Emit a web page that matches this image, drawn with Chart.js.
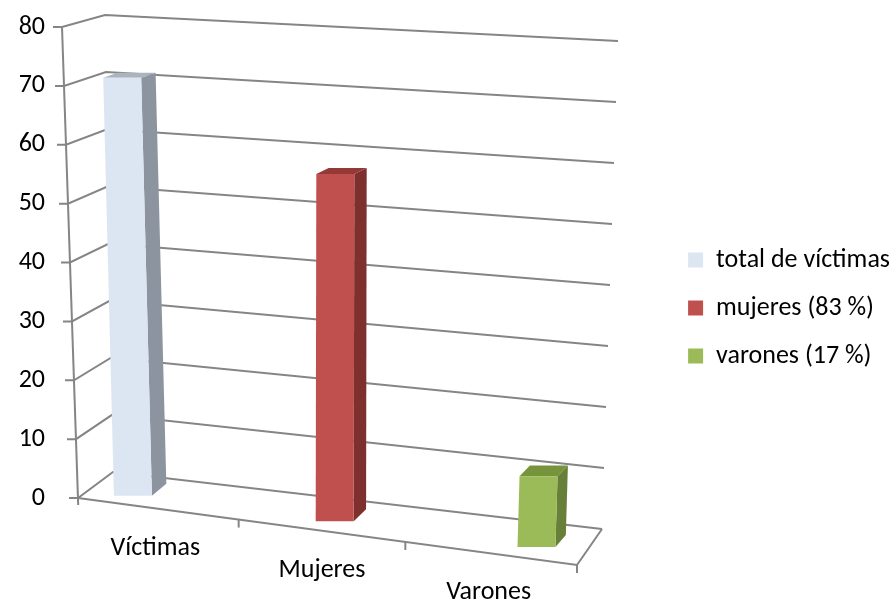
<!DOCTYPE html>
<html>
<head>
<meta charset="utf-8">
<script src="https://cdn.jsdelivr.net/npm/chart.js@4/dist/chart.umd.min.js"></script>
<style>
  html, body { margin: 0; padding: 0; background: #fff; overflow: hidden; }
  #wrap { width: 890px; height: 601px; }
  canvas { display: block; }
</style>
</head>
<body>
<div id="wrap"><canvas id="c" width="890" height="601"></canvas></div>
<script>
// ---- data ----
const categories   = ['Víctimas', 'Mujeres', 'Varones'];
const seriesLabels = ['total de víctimas', 'mujeres (83 %)', 'varones (17 %)'];
const seriesValues = [71, 59, 12];
const yTicks       = [0, 10, 20, 30, 40, 50, 60, 70, 80];

// ---- style ----
const frontColors = ['#dce6f2', '#c0504d', '#9bbb59'];
const sideColors  = ['#8c959f', '#7e302e', '#687f39'];
const topColors   = ['#aab4bf', '#943936', '#77933c'];
const GRID = '#858585';
const FS = 26;
const PAD_RIGHT = -10;

Chart.defaults.font.family = "Carlito, Calibri, Lato, 'Noto Sans', sans-serif";
Chart.defaults.font.size = FS;
Chart.defaults.color = '#000';

// perspective helpers (derived from chart area + y scale)
function geometry(chart) {
  const a = chart.chartArea, ys = chart.scales.y;
  const L = a.left, R = a.right, B = a.bottom;
  const tOf = v => (v - ys.min) / (ys.max - ys.min);
  const py = v => ys.getPixelForValue(v);
  return {
    FL: v => ({ x: L + 6 - 16 * tOf(v), y: py(v) }),
    BL: v => { const t = tOf(v); return { x: L + 41 - 8 * t, y: py(v) - 26 + 14 * t }; },
    BR: v => { const t = tOf(v); return { x: R + 30 + 16 * t, y: py(v) + 31 - 17 * t }; },
    FR0: { x: R + 5, y: B + 67 },
    frontY: x => B + (x - (L + 6)) * 67 / (R - L - 1)
  };
}

const perspective3d = {
  id: 'perspective3d',
  beforeDraw(chart) {
    // let the staggered category labels use the full canvas height (no clipping)
    chart.scales.x.bottom = chart.height;
  },
  beforeDatasetsDraw(chart) {
    const g = geometry(chart);
    const ys = chart.scales.y, xs = chart.scales.x;
    const ctx = chart.ctx;
    ctx.save();
    ctx.strokeStyle = GRID;
    ctx.lineWidth = 2;
    ctx.lineJoin = 'miter';
    yTicks.forEach(v => {
      const f = g.FL(v), b = g.BL(v), r = g.BR(v);
      ctx.beginPath();
      ctx.moveTo(f.x - 9, f.y);
      ctx.lineTo(f.x, f.y);
      ctx.lineTo(b.x, b.y);
      ctx.lineTo(r.x, r.y);
      ctx.stroke();
    });
    const f0 = g.FL(ys.min), f1 = g.FL(ys.max);
    ctx.beginPath();
    ctx.moveTo(f1.x, f1.y);
    ctx.lineTo(f0.x + 0.2, f0.y + 7);
    ctx.stroke();
    const br0 = g.BR(ys.min);
    ctx.beginPath();
    ctx.moveTo(f0.x, f0.y);
    ctx.lineTo(g.FR0.x, g.FR0.y);
    ctx.lineTo(br0.x, br0.y);
    ctx.stroke();
    ctx.beginPath();
    ctx.moveTo(g.FR0.x, g.FR0.y);
    ctx.lineTo(g.FR0.x, g.FR0.y + 8);
    ctx.stroke();
    for (let i = 0; i < categories.length - 1; i++) {
      const x = xs.getPixelForValue(i + 0.5);
      const y = g.frontY(x);
      ctx.beginPath();
      ctx.moveTo(x, y);
      ctx.lineTo(x, y + 8);
      ctx.stroke();
    }
    ctx.restore();
  },
  beforeDatasetDraw(chart, args) {
    const meta = args.meta, di = args.index;
    const a = chart.chartArea;
    const ctx = chart.ctx;
    meta.data.forEach(el => {
      const { x, y, base, width } = el.getProps(['x', 'y', 'base', 'width'], true);
      const xf = (x - a.left) / (a.right - a.left);
      const sy = 0.127 * (x - a.left) - 10;
      const tTop = (a.bottom - y) / (a.bottom - a.top);
      const lean = t => -16 * t * (1 - 2 * xf);
      const hw = width / 2;
      const bl = { x: x - hw, y: base + sy };
      const br = { x: x + hw, y: base + sy };
      const tl = { x: x - hw + lean(tTop), y: y + sy };
      const tr = { x: x + hw + lean(tTop), y: y + sy };
      const dx = 15 - 5 * xf;
      const dyT = -(4 + 8 * (1 - tTop));
      const dyB = -12;
      const poly = (pts, col) => {
        ctx.beginPath();
        ctx.moveTo(pts[0].x, pts[0].y);
        for (let k = 1; k < pts.length; k++) ctx.lineTo(pts[k].x, pts[k].y);
        ctx.closePath();
        ctx.fillStyle = col;
        ctx.fill();
      };
      ctx.save();
      poly([br, tr, { x: tr.x + dx, y: tr.y + dyT }, { x: br.x + dx, y: br.y + dyB }], sideColors[di]);
      poly([tl, tr, { x: tr.x + dx, y: tr.y + dyT }, { x: tl.x + dx, y: tl.y + dyT }], topColors[di]);
      poly([bl, br, tr, tl], frontColors[di]);
      ctx.restore();
    });
    return false;
  }
};

const datasets = seriesValues.map((v, i) => ({
  label: seriesLabels[i],
  data: [{ x: i, y: v }],
  xAxisID: 'xb',
  yAxisID: 'y',
  backgroundColor: frontColors[i],
  borderWidth: 0
}));

new Chart(document.getElementById('c'), {
  type: 'bar',
  data: { labels: categories, datasets },
  options: {
    responsive: false,
    animation: false,
    devicePixelRatio: 1,
    grouped: false,
    barThickness: 38,
    layout: { padding: { top: 27, right: PAD_RIGHT, bottom: 12, left: 0 } },
    plugins: {
      tooltip: { enabled: false },
      legend: {
        position: 'right',
        maxWidth: 400,
        labels: {
          boxWidth: 15,
          boxHeight: 15,
          padding: 22,
          color: '#000',
          font: { size: FS }
        }
      }
    },
    scales: {
      x: {
        type: 'category',
        position: 'bottom',
        offset: true,
        grid: { display: false, drawTicks: false },
        border: { display: false },
        ticks: {
          padding: 39,
          maxRotation: 0,
          autoSkip: false,
          font: { size: FS, lineHeight: 22 / FS },
          callback: function (value, index) {
            return Array(index).fill('').concat([this.getLabelForValue(value)]);
          }
        },
        afterFit: s => { s.height = 91; s.paddingLeft = 0; s.paddingRight = 0; }
      },
      xb: {
        type: 'linear',
        axis: 'x',
        display: false,
        offset: false,
        min: -0.302,
        max: 2.176
      },
      y: {
        type: 'linear',
        position: 'left',
        min: 0,
        max: 80,
        grid: { display: false, drawTicks: false },
        border: { display: false },
        ticks: { stepSize: 10, padding: 27, font: { size: FS } },
        afterFit: s => { s.width = 72; s.paddingTop = 0; s.paddingBottom = 0; }
      },
      yR: {
        type: 'linear',
        position: 'right',
        grid: { display: false, drawTicks: false },
        border: { display: false },
        ticks: { display: false },
        afterFit: s => { s.width = Math.max(0, s.chart.width - PAD_RIGHT - s.chart.legend.width - 572); s.paddingTop = 0; s.paddingBottom = 0; }
      }
    }
  },
  plugins: [perspective3d]
});
</script>
</body>
</html>
